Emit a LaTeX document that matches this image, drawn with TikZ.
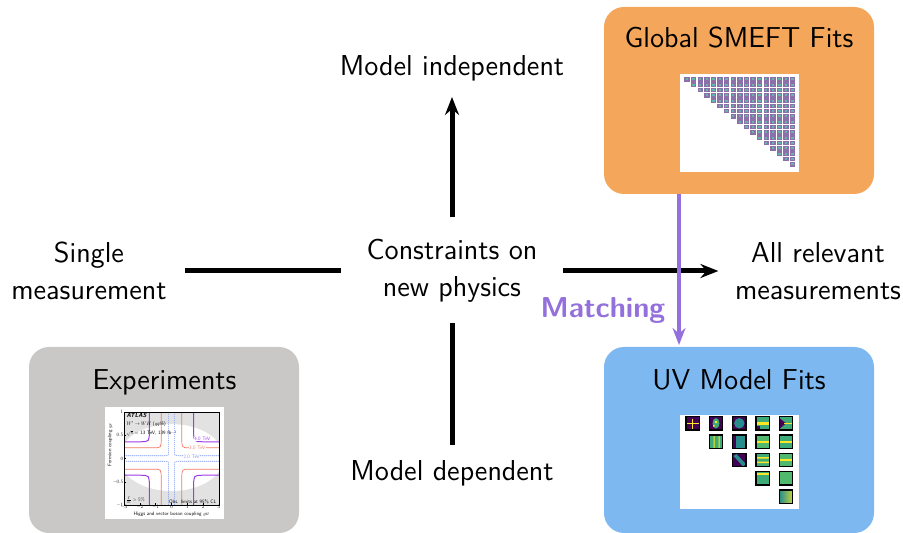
\documentclass[tikz,border=0pt]{standalone}
\usepackage{fontspec}
\usetikzlibrary{arrows.meta}
\definecolor{boxorange}{RGB}{244,166,90}
\definecolor{boxblue}{RGB}{125,185,240}
\definecolor{boxgray}{RGB}{201,200,199}
\definecolor{matchpurple}{RGB}{147,112,219}
\definecolor{smeftcell}{RGB}{140,112,170}
\definecolor{smeftdot}{RGB}{100,180,170}
\definecolor{vdark}{RGB}{68,1,84}
\definecolor{vteal}{RGB}{38,140,140}
\definecolor{vgreen}{RGB}{62,170,120}
\definecolor{vgreen2}{RGB}{80,185,110}
\definecolor{vyellow}{RGB}{253,231,37}
\definecolor{plotgray}{RGB}{226,226,226}
\definecolor{plotpurple}{RGB}{160,60,230}
\definecolor{plotred}{RGB}{240,120,100}
\definecolor{plotblue}{RGB}{120,150,240}
\begin{document}
\begin{tikzpicture}[x=0.5pt,y=-0.5pt,
  font=\sffamily\fontsize{14.4}{18.5}\selectfont,
  txt/.style={inner sep=0pt,outer sep=0pt,align=center},
  panel/.style={rounded corners=10pt,inner sep=0pt,outer sep=0pt,minimum width=135pt},
  mainline/.style={line width=2.5pt},
  blacktip/.style={-{Stealth[length=9pt,width=7pt,inset=3pt]}},
  matcharrow/.style={draw=matchpurple,line width=2pt,-{Stealth[length=8.5pt,width=6.5pt,inset=2.8pt]}},
  tiny/.style={inner sep=0.3pt,scale=0.25,font=\sffamily\fontsize{10}{12}\selectfont},
  uvframe/.style={draw=black,line width=0.6pt}]
\useasboundingbox (0,0) rectangle (903,533);

% ---------- panels ----------
\node[panel,fill=boxorange,minimum height=93.5pt] (smeft) at (739,100.5) {};
\node[panel,fill=boxblue,minimum height=93pt] (uv) at (739,440) {};
\node[panel,fill=boxgray,minimum height=93pt] (exp) at (164,440) {};

\node[txt,anchor=base] (smefttitle) at (739,48) {Global SMEFT Fits};
\node[txt,anchor=base] (uvtitle) at (739,390) {UV Model Fits};
\node[txt,anchor=base] (exptitle) at (164.5,390) {Experiments};

% ---------- SMEFT triangle image ----------
\fill[white] (680,74) rectangle (799,172);
\foreach \i in {0,...,16}{
  \foreach \j in {\i,...,16}{
    \fill[smeftcell] ({687+6.6*\j-2.7},{79.3+5.31*\i-2.3}) rectangle ++(5.4,4.6);
    \fill[smeftdot] ({687+6.6*\j-1.2},{79.3+5.31*\i-1}) rectangle ++(2.4,2);
  }
}

% ---------- UV fits image ----------
\fill[white] (680,415) rectangle (799,509);
\foreach \r/\c/\col in {0/0/vdark,0/1/vdark,0/2/vdark,0/3/vgreen,0/4/vgreen,
  1/1/vgreen,1/2/vteal,1/3/vgreen2,1/4/vgreen,2/2/vdark,2/3/vgreen,2/4/vgreen2,
  3/3/vgreen,3/4/vgreen2,4/4/vteal}
  \fill[\col] ({686+23.33*\c},{416.7+18.33*\r}) rectangle ++(13.3,13.3);
% cell details
\draw[vyellow,line width=0.4pt] (687,423.3) -- (698.5,423.3) (692.6,418.5) -- (692.6,428.5);
\fill[vgreen] (716,423.3) ellipse (3.5 and 5.2);
\fill[vyellow] (715,421) rectangle ++(2,2) (713,425) rectangle ++(1.5,1.5);
\fill[vteal] (739.3,423.3) circle (5.2);
\fill[vyellow] (756,422.2) rectangle ++(13.3,2.3);
\fill[vdark] (756,426) rectangle ++(4,4);
\fill[vdark] (779.33,418) -- (786,423.3) -- (779.33,429) -- cycle;
\fill[vyellow] (784,422.5) rectangle ++(8,1.6);
\fill[vyellow] (713.5,435.5) rectangle ++(1.2,12.5) (718.5,435.5) rectangle ++(1.2,12.5);
\fill[vdark] (732.67,435.03) rectangle ++(3,13.3);
\fill[vyellow] (756,441) rectangle ++(13.3,1.5);
\fill[vyellow] (779.33,441) rectangle ++(13.3,1.5);
\fill[vteal] (733.5,456) -- (736.5,454) -- (745.9,464) -- (743,466.5) -- cycle;
\fill[vyellow] (756,457) rectangle ++(13.3,1.5) (756,461.5) rectangle ++(13.3,1.5);
\fill[vyellow] (779.33,459.3) rectangle ++(13.3,1.5);
\fill[vyellow] (756,473) rectangle ++(13.3,1.5);
\shade[left color=vteal,right color=vyellow!70!vgreen] (779.33,490.03) rectangle ++(13.3,13.3);
\foreach \r/\c in {0/0,0/1,0/2,0/3,0/4,1/1,1/2,1/3,1/4,2/2,2/3,2/4,3/3,3/4,4/4}
  \draw[uvframe] ({686+23.33*\c},{416.7+18.33*\r}) rectangle ++(13.3,13.3);

% ---------- ATLAS plot image ----------
\fill[white] (105,407) rectangle (224,519);
\begin{scope}[shift={(171.5,458.5)},x=7.915pt,y=23.25pt]
  \begin{scope}
    \clip (-3,-1) rectangle (3,1);
    \fill[plotgray] (-3,-1) rectangle (3,1);
    \fill[white] (0,0.02) ellipse (3.3 and 0.72);
    \foreach \sx/\sy in {1/1,1/-1,-1/1,-1/-1}{
      \draw[plotblue,line width=0.3pt,dash pattern=on 0.6pt off 0.4pt]
        ({\sx*0.18},{\sy*1}) -- ({\sx*0.18},{\sy*0.2}) .. controls ({\sx*0.18},{\sy*0.06}) .. ({\sx*0.45},{\sy*0.06}) -- ({\sx*3},{\sy*0.06});
      \draw[plotred,line width=0.35pt]
        ({\sx*0.65},{\sy*1}) -- ({\sx*0.65},{\sy*0.45}) .. controls ({\sx*0.65},{\sy*0.23}) .. ({\sx*1.1},{\sy*0.23}) -- ({\sx*3},{\sy*0.23});
      \draw[plotpurple,line width=0.5pt]
        ({\sx*1.4},{\sy*1}) -- ({\sx*1.4},{\sy*0.6}) .. controls ({\sx*1.4},{\sy*0.36}) .. ({\sx*2},{\sy*0.36}) -- ({\sx*3},{\sy*0.36});
    }
    \node[tiny,anchor=north west,font=\sffamily\bfseries\itshape\fontsize{12}{14}\selectfont] (atlas) at (-2.85,0.985) {ATLAS};
    \node[tiny,anchor=north west] (proc) at (-2.85,0.80) {$W'\to WH$ ($q\bar q b\bar b$)};
    \node[tiny,anchor=north west] (ener) at (-2.85,0.60) {$\sqrt{s}$ = 13 TeV, 139 fb$^{-1}$};
    \node[tiny,fill=white,text=plotpurple] (l4) at (1.95,0.42) {4.0 TeV};
    \node[tiny,fill=white,text=plotred] (l3) at (1.63,0.22) {3.0 TeV};
    \node[tiny,fill=white,text=plotblue] (l2) at (1.27,0.03) {2.0 TeV};
    \node[tiny,anchor=south west] (gam) at (-2.85,-0.97) {$\frac{\Gamma}{m}>5\%$};
    \node[tiny,anchor=south east] (obs) at (2.85,-0.97) {Obs. limits at 95\% CL};
  \end{scope}
  \draw[line width=0.3pt] (-3,-1) rectangle (3,1);
  \foreach \t in {-3,-2,-1,0,1,2,3}{
    \draw[line width=0.2pt] (\t,-1) -- (\t,-0.95);
    \node[tiny,anchor=north] (xt\t) at (\t,-1.01) {$\t$};
  }
  \foreach \t/\lab in {-1/-1,-0.5/-0.5,0/0,0.5/0.5,1/1}{
    \draw[line width=0.2pt] (-3,\t) -- (-2.9,\t);
    \node[tiny,anchor=east] at (-3.04,\t) {$\lab$};
  }
  \node[tiny,anchor=north] (xlab) at (0,-1.14) {Higgs and vector boson coupling $g_H$};
  \node[tiny,anchor=south,rotate=90] (ylab) at (-3.72,0.3) {Fermion coupling $g_F$};
\end{scope}

% ---------- central diagram ----------
\node[txt,anchor=base] (indep) at (452,76) {Model independent};
\node[txt,anchor=base] (dep) at (452,480) {Model dependent};
\node[txt] (cons) at (452,271) {Constraints on\\new physics};
\node[txt] (single) at (89,271) {Single\\measurement};
\node[txt] (allrel) at (818,271) {All relevant\\measurements};

\draw[mainline,blacktip,shorten <=11pt,shorten >=7.7pt] (cons) -- (indep);
\draw[mainline,shorten <=10.2pt,shorten >=7.5pt] (cons) -- (dep);
\draw[mainline,shorten <=9pt,shorten >=13pt] (single) -- (cons);
\draw[mainline,blacktip,shorten <=13pt,shorten >=8.3pt] (cons) -- (allrel);

\node[txt,anchor=base,text=matchpurple,font=\sffamily\bfseries\fontsize{14.4}{18.5}\selectfont] (matching) at (603,318) {Matching};
\coordinate (mx) at (679,0);
\draw[matcharrow,shorten >=1pt] (smeft.south -| mx) -- (uv.north -| mx);
\end{tikzpicture}
\end{document}
